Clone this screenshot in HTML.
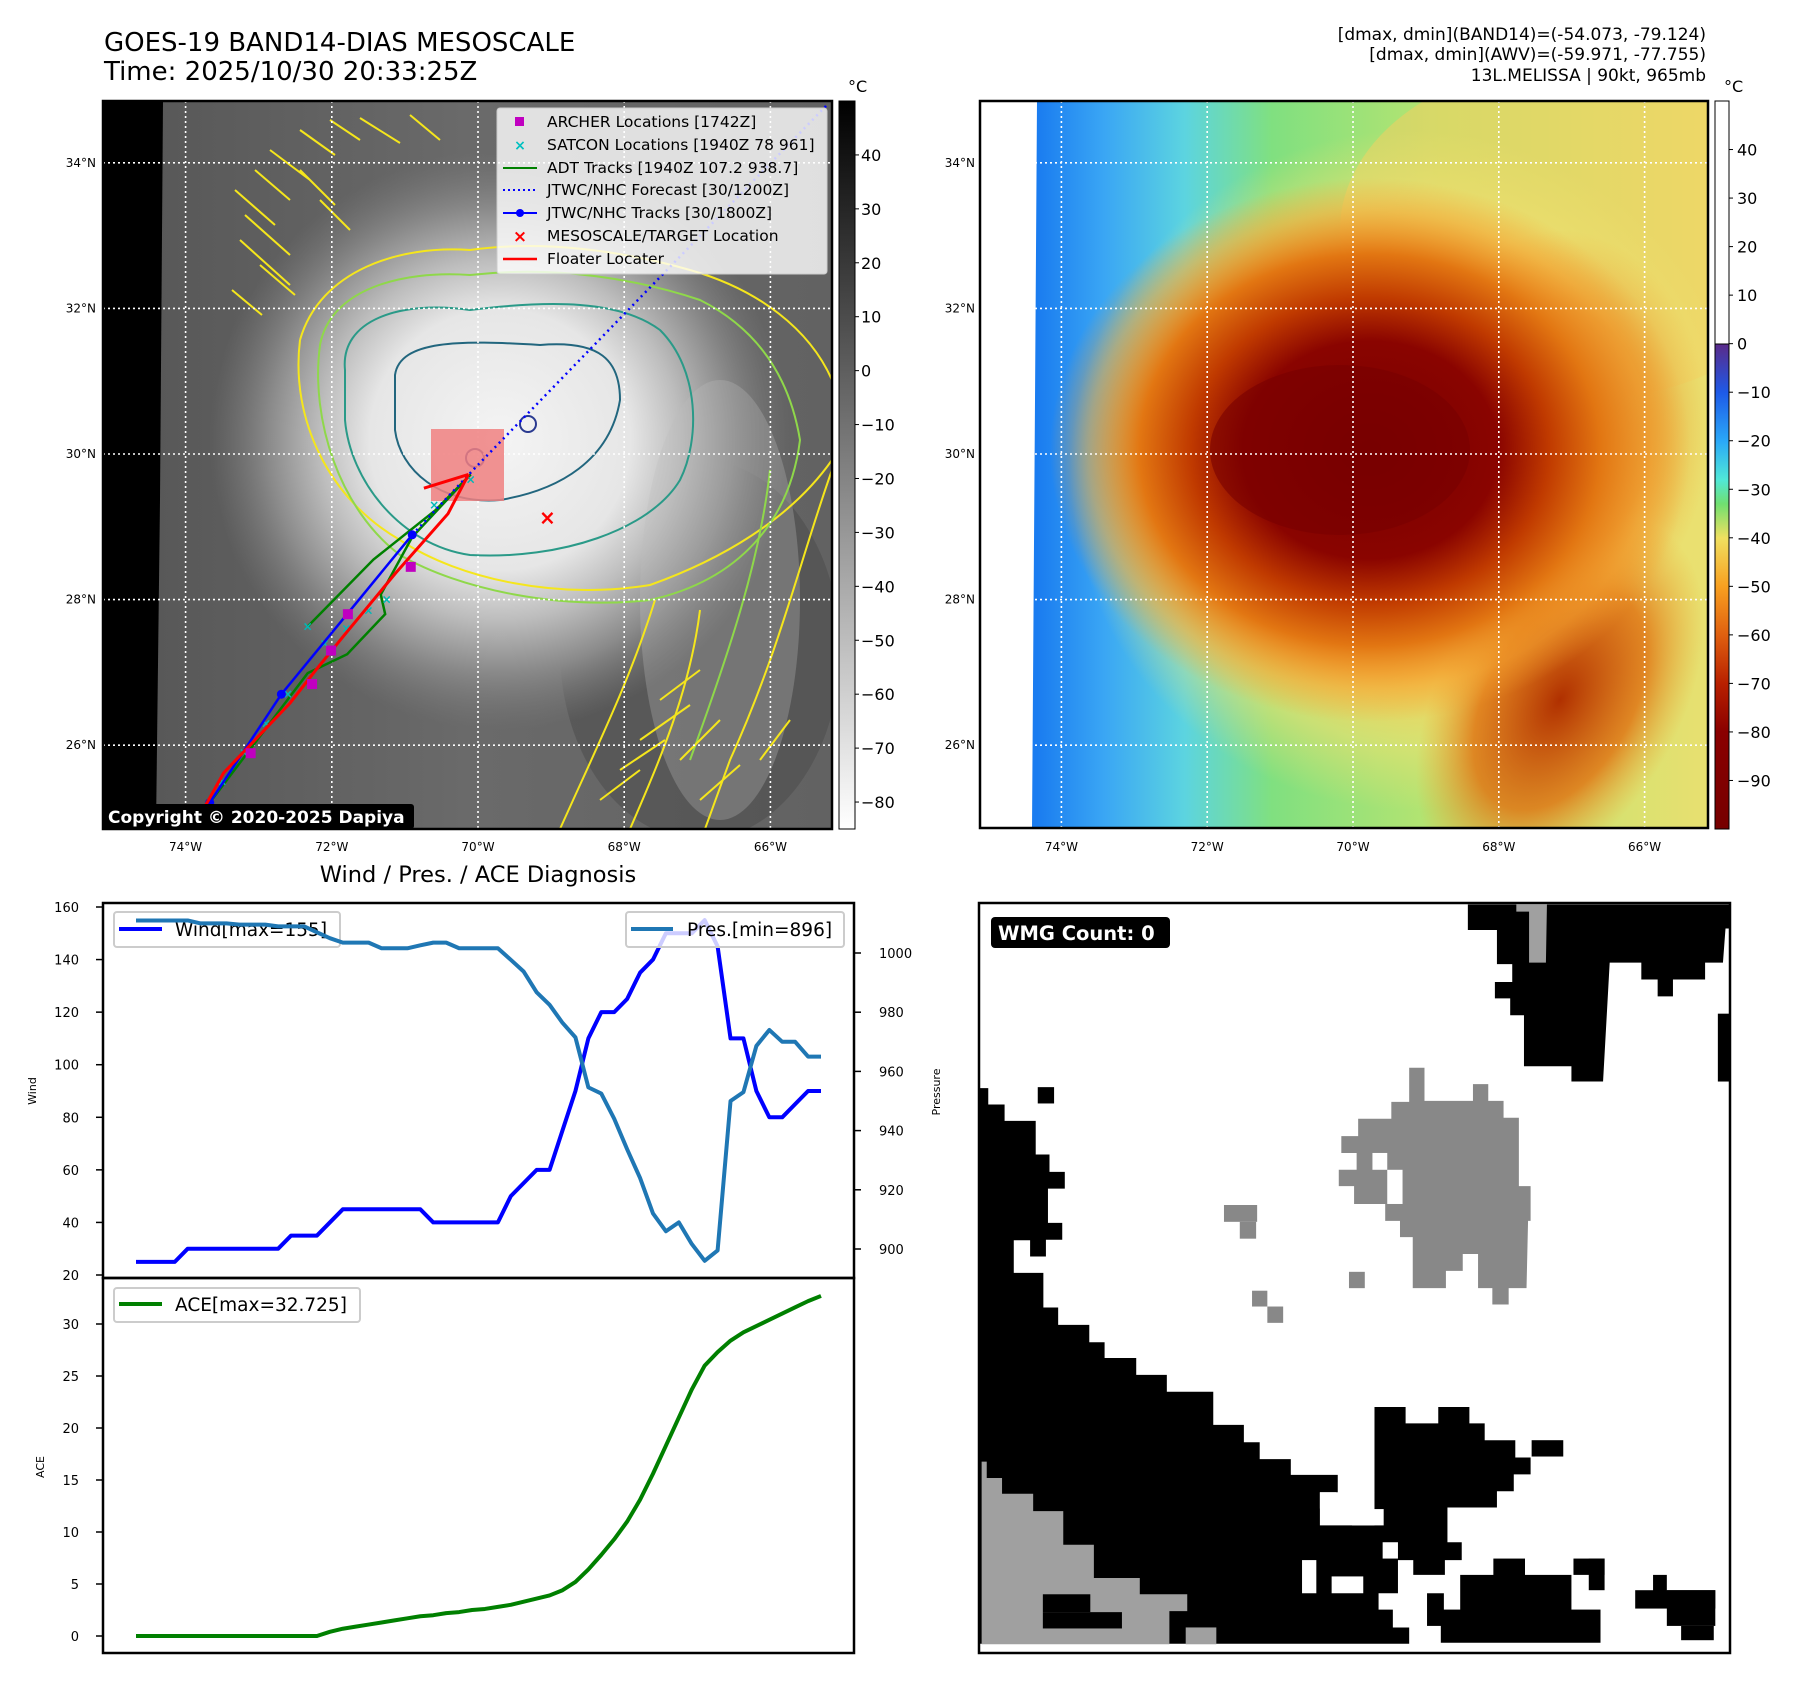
<!DOCTYPE html>
<html><head><meta charset="utf-8"><style>
html,body{margin:0;padding:0;background:#fff;}
svg{display:block;font-family:"DejaVu Sans","Liberation Sans",sans-serif;}
</style></head><body>
<svg id="fig" width="1797" height="1690" viewBox="0 0 1797 1690">
<defs>
  <radialGradient id="cloud" cx="500" cy="440" r="290" gradientUnits="userSpaceOnUse">
    <stop offset="0" stop-color="#f4f4f4"/><stop offset="0.45" stop-color="#e6e6e6"/>
    <stop offset="0.62" stop-color="#bdbdbd"/><stop offset="0.8" stop-color="#8a8a8a"/>
    <stop offset="1" stop-color="#777" stop-opacity="0"/>
  </radialGradient>
  <linearGradient id="leftbase" x1="0" y1="0" x2="1" y2="0">
    <stop offset="0" stop-color="#555"/><stop offset="0.5" stop-color="#6a6a6a"/><stop offset="1" stop-color="#626262"/>
  </linearGradient>
  <linearGradient id="graybar" x1="0" y1="0" x2="0" y2="1">
    <stop offset="0" stop-color="#000"/><stop offset="1" stop-color="#fff"/>
  </linearGradient>
  <linearGradient id="rbase" x1="1037" y1="0" x2="1708" y2="0" gradientUnits="userSpaceOnUse">
    <stop offset="0" stop-color="#1a7cf0"/><stop offset="0.1" stop-color="#3aa6f4"/>
    <stop offset="0.22" stop-color="#5cd4e0"/><stop offset="0.35" stop-color="#80e080"/>
    <stop offset="0.6" stop-color="#b8e470"/><stop offset="1" stop-color="#e8e070"/>
  </linearGradient>
  <radialGradient id="rhalo" cx="1410" cy="470" r="340" gradientUnits="userSpaceOnUse">
    <stop offset="0" stop-color="#f4b040"/><stop offset="0.6" stop-color="#f6c850"/>
    <stop offset="0.8" stop-color="#f0e070" stop-opacity="0.6"/><stop offset="1" stop-color="#f0e070" stop-opacity="0"/>
  </radialGradient>
  <radialGradient id="rcore" cx="1370" cy="450" r="320" gradientUnits="userSpaceOnUse" gradientTransform="translate(1370 450) scale(1 0.85) translate(-1370 -450)">
    <stop offset="0" stop-color="#780000"/><stop offset="0.4" stop-color="#8a0400"/>
    <stop offset="0.56" stop-color="#c03a00"/><stop offset="0.72" stop-color="#e27612"/>
    <stop offset="0.88" stop-color="#f3a030" stop-opacity="0.5"/><stop offset="1" stop-color="#f3a030" stop-opacity="0"/>
  </radialGradient>
  <radialGradient id="rarm" cx="0.5" cy="0.5" r="0.5">
    <stop offset="0" stop-color="#b03000"/><stop offset="0.6" stop-color="#e07010" stop-opacity="0.8"/><stop offset="1" stop-color="#f0a030" stop-opacity="0"/>
  </radialGradient>
  <linearGradient id="jetbar" x1="0" y1="0" x2="0" y2="1">
    <stop offset="0" stop-color="#5a2a8a"/><stop offset="0.1" stop-color="#1e5ae8"/>
    <stop offset="0.2" stop-color="#2aa8f8"/><stop offset="0.28" stop-color="#50e8d8"/>
    <stop offset="0.33" stop-color="#70e070"/><stop offset="0.4" stop-color="#f0e060"/>
    <stop offset="0.5" stop-color="#f8a020"/><stop offset="0.6" stop-color="#e06010"/>
    <stop offset="0.7" stop-color="#b82000"/><stop offset="0.8" stop-color="#8a0000"/>
    <stop offset="1" stop-color="#760000"/>
  </linearGradient>
  <clipPath id="clipL"><rect x="103" y="101" width="729" height="728"/></clipPath>
  <clipPath id="clipR"><rect x="980" y="101" width="728" height="727"/></clipPath>
</defs>

<text x="104" y="51" font-size="26">GOES-19 BAND14-DIAS MESOSCALE</text>
<text x="104" y="80" font-size="26">Time: 2025/10/30 20:33:25Z</text>
<g font-size="17" text-anchor="end">
  <text x="1706" y="40">[dmax, dmin](BAND14)=(-54.073, -79.124)</text>
  <text x="1706" y="60">[dmax, dmin](AWV)=(-59.971, -77.755)</text>
  <text x="1706" y="81">13L.MELISSA | 90kt, 965mb</text>
</g>

<g id="leftmap" clip-path="url(#clipL)">
  <rect x="103" y="101" width="729" height="728" fill="url(#leftbase)"/>
  <ellipse cx="700" cy="650" rx="140" ry="190" fill="#4a4a4a" opacity="0.5"/>
  <rect x="103" y="101" width="729" height="728" fill="url(#cloud)"/>
  <ellipse cx="720" cy="600" rx="80" ry="220" fill="#bdbdbd" opacity="0.3"/>
  <polygon points="103,101 163,101 160,500 156,829 103,829" fill="#000"/>
  <g fill="none" stroke-width="2">
    <path d="M300,340 C320,270 400,245 470,250 C540,240 620,250 690,270 C760,290 810,330 832,380" stroke="#f5e61c"/>
    <path d="M300,340 C290,420 330,500 400,540 C460,580 560,600 650,585 C720,560 790,520 832,460" stroke="#f5e61c"/>
    <path d="M832,470 C800,560 780,650 730,760 L705,829" stroke="#f5e61c"/>
    <path d="M655,600 C630,680 600,740 560,829" stroke="#f5e61c"/>
    <path d="M700,610 C690,690 660,760 630,829" stroke="#f5e61c"/>
    <path d="M320,345 C330,290 400,270 470,275 C560,265 640,280 700,300 C760,330 790,380 800,440 C790,520 740,580 650,600 C560,610 460,590 400,555 C340,510 310,420 320,345 Z" stroke="#8fd84a"/>
    <path d="M770,470 C760,560 730,650 690,760" stroke="#8fd84a"/>
    <path d="M345,370 C340,320 400,300 470,310 C550,300 620,300 660,330 C700,370 700,440 680,480 C650,530 560,560 470,555 C400,545 350,480 345,420 Z" stroke="#2a9a88"/>
    <path d="M395,375 C400,340 460,340 540,345 C600,340 620,360 620,400 C610,460 560,490 500,500 C440,505 400,470 395,430 Z" stroke="#22667e"/>
    <circle cx="528" cy="424" r="8" stroke="#2a3a90"/>
    <circle cx="475" cy="458" r="9" stroke="#2a3a90"/>
  </g>
  <g stroke="#f5e61c" stroke-width="2" fill="none">
    <path d="M235,190 l40,35 M245,215 l45,40 M240,240 l50,45 M255,170 l35,30 M270,150 l40,30 M300,130 l35,25 M330,120 l30,20 M260,265 l35,30 M232,290 l30,25 M360,118 l40,25 M410,115 l30,25 M300,170 l35,35 M320,200 l30,30"/>
    <path d="M660,700 l40,-30 M640,740 l50,-35 M620,770 l45,-30 M680,760 l40,-40 M700,800 l40,-35 M600,800 l40,-30 M760,760 l30,-40"/>
  </g>
  <g id="gridL" stroke="#fff" stroke-width="1.6" stroke-dasharray="2,3"></g>
  <rect x="431" y="429" width="73" height="72" fill="#f08080" opacity="0.85"/>
  <g id="tracks"></g>
  <rect x="103" y="804" width="311" height="25" rx="3" fill="#000"/>
  <text x="108" y="823" font-size="17" font-weight="bold" fill="#fff">Copyright © 2020-2025 Dapiya</text>
</g>
<rect x="103" y="101" width="729" height="728" fill="none" stroke="#000" stroke-width="2.5"/>
<g id="ticksL" font-size="12"></g>

<g>
  <rect x="497" y="108" width="330" height="166" rx="3" fill="#fff" fill-opacity="0.8" stroke="#ccc"/>
  <g font-size="15.5">
    <rect x="515" y="117" width="9" height="9" fill="#c000c0"/><text x="547" y="127">ARCHER Locations [1742Z]</text>
    <text x="520" y="150" fill="#00c0c0" text-anchor="middle" font-size="14" font-weight="bold">×</text><text x="547" y="150">SATCON Locations [1940Z 78 961]</text>
    <line x1="503" y1="168" x2="537" y2="168" stroke="#008000" stroke-width="2"/><text x="547" y="173">ADT Tracks [1940Z 107.2 938.7]</text>
    <line x1="503" y1="190" x2="537" y2="190" stroke="#0000ff" stroke-width="2" stroke-dasharray="2,3"/><text x="547" y="195">JTWC/NHC Forecast [30/1200Z]</text>
    <line x1="503" y1="213" x2="537" y2="213" stroke="#0000ff" stroke-width="2"/><circle cx="520" cy="213" r="4" fill="#0000ff"/><text x="547" y="218">JTWC/NHC Tracks [30/1800Z]</text>
    <text x="520" y="242" fill="#ff0000" text-anchor="middle" font-size="17" font-weight="bold">×</text><text x="547" y="241">MESOSCALE/TARGET Location</text>
    <line x1="503" y1="259" x2="537" y2="259" stroke="#ff0000" stroke-width="2.5"/><text x="547" y="264">Floater Locater</text>
  </g>
</g>

<rect x="839" y="101" width="16" height="728" fill="url(#graybar)" stroke="#000" stroke-width="1"/>
<text x="848" y="92" font-size="16">°C</text>
<g id="cbL" font-size="16"></g>

<g clip-path="url(#clipR)">
  <rect x="980" y="101" width="728" height="727" fill="#fff"/>
  <polygon points="1037,101 1708,101 1708,828 1032,828 1035,400" fill="url(#rbase)"/>
  <ellipse cx="1580" cy="230" rx="240" ry="170" fill="#f2d060" opacity="0.55"/>
  <rect x="980" y="101" width="728" height="727" fill="url(#rhalo)"/>
  <ellipse cx="1560" cy="700" rx="120" ry="200" transform="rotate(30 1560 700)" fill="url(#rarm)"/>
  <ellipse cx="1560" cy="430" rx="150" ry="200" fill="url(#rarm)" opacity="0.7"/>
  <rect x="980" y="101" width="728" height="727" fill="url(#rcore)"/>
  <ellipse cx="1340" cy="450" rx="130" ry="85" fill="#780000" opacity="0.6"/>
  <g id="gridR" stroke="#fff" stroke-width="1.6" stroke-dasharray="2,3"></g>
</g>
<rect x="980" y="101" width="728" height="727" fill="none" stroke="#000" stroke-width="2.5"/>
<g id="ticksR" font-size="12"></g>
<rect x="1715" y="101" width="14" height="243" fill="#fff" stroke="#000" stroke-width="1"/>
<rect x="1715" y="344" width="14" height="485" fill="url(#jetbar)" stroke="#000" stroke-width="1"/>
<text x="1724" y="92" font-size="16">°C</text>
<g id="cbR" font-size="16"></g>

<text x="478" y="882" font-size="22.5" text-anchor="middle">Wind / Pres. / ACE Diagnosis</text>
<g id="chart"></g>
<rect x="103" y="903" width="751" height="375" fill="none" stroke="#000" stroke-width="2.5"/>
<rect x="103" y="1278" width="751" height="375" fill="none" stroke="#000" stroke-width="2.5"/>
<text transform="translate(36 1091) rotate(-90)" font-size="11" text-anchor="middle">Wind</text>
<text transform="translate(940 1092) rotate(-90)" font-size="11" text-anchor="middle">Pressure</text>
<text transform="translate(44 1467) rotate(-90)" font-size="11" text-anchor="middle">ACE</text>

<g>
  <rect x="979" y="903" width="751" height="750" fill="#fff"/>
  <g transform="translate(950 880) scale(0.5102)">
    <path fill="#000" d="M57,408 L75,408 L75,440 L107,440 L107,472 L168,472 L168,538 L195,538 L195,572 L225,572 L225,605 L192,605 L192,672 L220,672 L220,705 L188,705 L188,738 L157,738 L157,706 L125,706 L125,770 L183,770 L183,838 L212,838 L212,872 L273,872 L273,906 L303,906 L303,937 L365,937 L365,970 L425,970 L425,1003 L516,1003 L516,1068 L576,1068 L576,1102 L607,1102 L607,1135 L668,1135 L668,1166 L760,1166 L760,1200 L725,1200 L725,1265 L832,1265 L832,1033 L893,1033 L893,1065 L957,1065 L957,1033 L1018,1033 L1018,1065 L1048,1065 L1048,1098 L1108,1098 L1108,1132 L1138,1132 L1138,1165 L1105,1165 L1105,1198 L1072,1198 L1072,1230 L975,1230 L975,1298 L1003,1298 L1003,1333 L970,1333 L970,1362 L908,1362 L908,1333 L878,1333 L878,1398 L840,1398 L840,1430 L868,1430 L868,1465 L900,1465 L900,1497 L57,1497 Z"/>
    <rect x="172" y="406" width="32" height="32" fill="#000"/>
    <g fill="#fff"><rect x="725" y="1200" width="32" height="32"/><rect x="788" y="1233" width="62" height="32"/><rect x="690" y="1333" width="28" height="65"/><rect x="748" y="1365" width="62" height="33"/><rect x="848" y="1298" width="30" height="32"/></g>
    <g fill="#000">
      <rect x="1065" y="1330" width="62" height="40"/><rect x="1000" y="1362" width="218" height="100"/>
      <rect x="962" y="1430" width="313" height="65"/><rect x="935" y="1398" width="33" height="64"/>
      <rect x="1222" y="1330" width="61" height="32"/><rect x="1252" y="1330" width="31" height="62"/>
      <rect x="1378" y="1362" width="27" height="36"/><rect x="1343" y="1392" width="157" height="36"/>
      <rect x="1405" y="1392" width="95" height="70"/><rect x="1433" y="1462" width="64" height="28"/>
      <rect x="1140" y="1098" width="62" height="32"/>
    </g>
    <path fill="#a0a0a0" d="M62,1140 L72,1140 L72,1172 L102,1172 L102,1203 L163,1203 L163,1237 L222,1237 L222,1303 L282,1303 L282,1368 L372,1368 L372,1400 L465,1400 L465,1433 L430,1433 L430,1498 L62,1498 Z"/>
    <rect x="462" y="1465" width="60" height="33" fill="#a0a0a0"/>
    <rect x="182" y="1400" width="93" height="35" fill="#000"/><rect x="182" y="1435" width="155" height="32" fill="#000"/>
    <path fill="#888" d="M900,368 L930,368 L930,433 L1025,433 L1025,400 L1055,400 L1055,433 L1085,433 L1085,466 L1115,466 L1115,600 L1138,600 L1138,668 L1133,668 L1130,800 L1095,800 L1095,832 L1063,832 L1063,800 L1035,800 L1035,733 L1005,733 L1005,766 L972,766 L972,800 L907,800 L907,700 L882,700 L882,668 L853,668 L853,635 L792,635 L792,600 L762,600 L762,568 L797,568 L797,535 L767,535 L767,502 L800,502 L800,468 L865,468 L865,435 L900,435 Z"/>
    <g fill="#fff"><rect x="828" y="535" width="29" height="33"/><rect x="857" y="568" width="30" height="67"/></g>
    <g fill="#888"><rect x="537" y="637" width="65" height="33"/><rect x="568" y="670" width="32" height="33"/><rect x="782" y="768" width="31" height="32"/><rect x="592" y="805" width="30" height="31"/><rect x="622" y="836" width="31" height="32"/></g>
    <path fill="#000" d="M1015,48 L1528,48 L1528,95 L1520,95 L1515,162 L1480,162 L1480,195 L1417,195 L1417,228 L1387,228 L1387,195 L1355,195 L1355,162 L1293,162 L1280,395 L1218,395 L1218,365 L1125,365 L1125,265 L1098,265 L1098,232 L1068,232 L1068,200 L1102,200 L1102,165 L1072,165 L1072,98 L1015,98 Z"/>
    <path fill="#a0a0a0" d="M1110,48 L1170,48 L1168,162 L1135,162 L1135,62 L1110,62 Z"/>
    <rect x="1505" y="262" width="23" height="133" fill="#000"/>
  </g>
  <rect x="979" y="903" width="751" height="750" fill="none" stroke="#000" stroke-width="2.5"/>
  <rect x="991" y="917" width="179" height="31" rx="4" fill="#000"/>
  <text x="998" y="940" font-size="19.5" font-weight="bold" fill="#fff">WMG Count: 0</text>
</g>
</svg>

<script>
const wind = [25,25,25,25,30,30,30,30,30,30,30,30,35,35,35,40,45,45,45,45,45,45,45,40,40,40,40,40,40,50,55,60,60,75,90,110,120,120,125,135,140,150,150,150,155,145,110,110,90,80,80,85,90,90];
const pres = [1011,1011,1011,1011,1011,1010,1010,1010,1009.6,1009.6,1009.6,1009,1009,1009,1007,1005,1003.5,1003.5,1003.5,1001.6,1001.6,1001.6,1002.6,1003.5,1003.5,1001.6,1001.6,1001.6,1001.6,997.7,993.7,986.7,982.5,976.4,971.5,954.6,952.5,944,933.7,924,912,906,909,901.7,896,899.5,950,953,968.6,974,970,970,965,965];
const ace = [0,0,0,0,0,0,0,0,0,0,0,0,0,0,0,0.4,0.7,0.9,1.1,1.3,1.5,1.7,1.9,2.0,2.2,2.3,2.5,2.6,2.8,3.0,3.3,3.6,3.9,4.4,5.2,6.4,7.8,9.3,11.0,13.1,15.6,18.3,21.0,23.7,26.0,27.3,28.4,29.2,29.8,30.4,31.0,31.6,32.2,32.7];
const windTicks = [20,40,60,80,100,120,140,160];
const presTicks = [900,920,940,960,980,1000];
const aceTicks = [0,5,10,15,20,25,30];
const lonTicks = [-74,-72,-70,-68,-66];
const latTicks = [26,28,30,32,34];
const cbLeftTicks = [40,30,20,10,0,-10,-20,-30,-40,-50,-60,-70,-80];
const cbRightTicks = [40,30,20,10,0,-10,-20,-30,-40,-50,-60,-70,-80,-90];
const bestLon = [-73.67,-72.69,-70.90];
const bestLat = [25.21,26.70,28.89];
const fcstLon = [-70.90,-70.03,-65.23];
const fcstLat = [28.89,29.82,34.79];
const floaterLon = [-73.85,-73.48,-72.57,-72.22,-71.88,-71.13,-70.41,-70.13];
const floaterLat = [24.95,25.62,26.58,27.03,27.45,28.36,29.18,29.72];
const floater2Lon = [-70.74,-70.13];
const floater2Lat = [29.53,29.72];
const adtLon = [-73.67,-72.33,-71.79,-71.27,-71.33,-70.90,-70.10];
const adtLat = [25.21,26.99,27.25,27.80,28.07,28.86,29.72];
const adt2Lon = [-72.33,-71.43,-70.58,-70.10];
const adt2Lat = [27.63,28.55,29.23,29.72];
const archerLon = [-73.77,-73.11,-72.27,-72.01,-71.78,-70.92];
const archerLat = [24.98,25.89,26.84,27.30,27.80,28.45];
const satLon = [-73.5,-73.2,-72.9,-72.6,-72.33,-72.1,-71.8,-71.5,-71.25,-70.6,-70.1];
const satLat = [25.5,25.9,26.3,26.7,27.63,27.4,27.6,27.85,28.0,29.3,29.65];
const targetLon = [-69.05];
const targetLat = [29.13];

const NS = 'http://www.w3.org/2000/svg';
function mk(tag, attrs, parent){ const e=document.createElementNS(NS,tag); for(const k in attrs) e.setAttribute(k,attrs[k]); parent.appendChild(e); return e; }

function lxL(lon){ return 478 + (lon+70)*73.1; }
function lxR(lon){ return 1353 + (lon+70)*72.9; }
function ly(lat){ return 454 - (lat-30)*72.8; }

const gL=document.getElementById('gridL'), gR=document.getElementById('gridR');
const tL=document.getElementById('ticksL'), tR=document.getElementById('ticksR');
lonTicks.forEach(lon=>{
  let l=mk('line',{x1:lxL(lon),x2:lxL(lon),y1:101,y2:829},gL);
  
  
  let r=mk('line',{x1:lxR(lon),x2:lxR(lon),y1:101,y2:828},gR);
  
  
  let t=mk('text',{x:lxL(lon),y:851,'text-anchor':'middle'},tL); t.textContent=Math.abs(lon)+'°W';
  
  
  let t2=mk('text',{x:lxR(lon),y:851,'text-anchor':'middle'},tR); t2.textContent=Math.abs(lon)+'°W';
  
  
});
latTicks.forEach(lat=>{
  let l=mk('line',{x1:103,x2:832,y1:ly(lat),y2:ly(lat)},gL);
  
  
  let r=mk('line',{x1:980,x2:1708,y1:ly(lat),y2:ly(lat)},gR);
  
  
  let t=mk('text',{x:96,y:ly(lat)+4,'text-anchor':'end'},tL); t.textContent=lat+'°N';
  
  
  let t2=mk('text',{x:975,y:ly(lat)+4,'text-anchor':'end'},tR); t2.textContent=lat+'°N';
  
  
});

const cbL=document.getElementById('cbL'), cbR=document.getElementById('cbR');
function minus(v){ return v<0 ? '\u2212'+Math.abs(v) : String(v); }
cbLeftTicks.forEach(v=>{
  const y=101+(50-v)/135*728;
  mk('line',{x1:855,x2:859,y1:y,y2:y,stroke:'#000'},cbL);
  let t=mk('text',{x:861,y:y+6},cbL); t.textContent=minus(v);
  
  
});
cbRightTicks.forEach(v=>{
  const y=101+(50-v)/150*728;
  mk('line',{x1:1729,x2:1733,y1:y,y2:y,stroke:'#000'},cbR);
  let t=mk('text',{x:1737,y:y+6},cbR); t.textContent=minus(v);
  
  
});

const tr=document.getElementById('tracks');
function pts(lons,lats){ return lons.map((lo,i)=>lxL(lo)+','+ly(lats[i])).join(' '); }
let p;
p=mk('polyline',{points:pts(adtLon,adtLat),fill:'none',stroke:'#008000','stroke-width':2.5},tr);


p=mk('polyline',{points:pts(adt2Lon,adt2Lat),fill:'none',stroke:'#008000','stroke-width':2.5},tr);


satLon.forEach((lo,i)=>{
  let t=mk('text',{x:lxL(lo),y:ly(satLat[i])+4,'text-anchor':'middle','font-size':12,'font-weight':'bold',fill:'#00b8b8'},tr); t.textContent='×';
  
  
});
p=mk('polyline',{points:pts(fcstLon,fcstLat),fill:'none',stroke:'#0000ff','stroke-width':2.5,'stroke-dasharray':'2,4'},tr);


p=mk('polyline',{points:pts(bestLon,bestLat),fill:'none',stroke:'#0000ff','stroke-width':2.5},tr);


bestLon.forEach((lo,i)=>{
  let c=mk('circle',{cx:lxL(lo),cy:ly(bestLat[i]),r:4.5,fill:'#0000ff'},tr);
  
  
});
p=mk('polyline',{points:pts(floaterLon,floaterLat),fill:'none',stroke:'#ff0000','stroke-width':3},tr);


p=mk('polyline',{points:pts(floater2Lon,floater2Lat),fill:'none',stroke:'#ff0000','stroke-width':3},tr);


archerLon.forEach((lo,i)=>{
  let r=mk('rect',{x:lxL(lo)-5,y:ly(archerLat[i])-5,width:10,height:10,fill:'#c000c0'},tr);
  
  
});
targetLon.forEach((lo,i)=>{
  let t=mk('text',{x:lxL(lo),y:ly(targetLat[i])+7,'text-anchor':'middle','font-size':20,'font-weight':'bold',fill:'#ff0000'},tr); t.textContent='×';
  
  
});

const ch=document.getElementById('chart');
function cx(i){ return 136 + i*(821-136)/53; }
function yW(v){ return 907 + (160-v)*(1275-907)/140; }
function yP(v){ return 953 + (1000-v)*2.96; }
function yA(v){ return 1636 - v*10.4; }
windTicks.forEach(v=>{
  mk('line',{x1:96,x2:103,y1:yW(v),y2:yW(v),stroke:'#000','stroke-width':1.5},ch);
  let t=mk('text',{x:79,y:yW(v)+5,'text-anchor':'end','font-size':13},ch); t.textContent=v;
  
  
});
presTicks.forEach(v=>{
  mk('line',{x1:854,x2:861,y1:yP(v),y2:yP(v),stroke:'#000','stroke-width':1.5},ch);
  let t=mk('text',{x:879,y:yP(v)+5,'font-size':13},ch); t.textContent=v;
  
  
});
aceTicks.forEach(v=>{
  mk('line',{x1:96,x2:103,y1:yA(v),y2:yA(v),stroke:'#000','stroke-width':1.5},ch);
  let t=mk('text',{x:79,y:yA(v)+5,'text-anchor':'end','font-size':13},ch); t.textContent=v;
  
  
});
let wl=mk('polyline',{points:wind.map((v,i)=>cx(i)+','+yW(v)).join(' '),fill:'none',stroke:'#0000ff','stroke-width':4,'stroke-linejoin':'round'},ch);


let lg=mk('g',{},ch);


mk('rect',{x:114,y:912,width:226,height:35,rx:3,fill:'#fff','fill-opacity':0.8,stroke:'#ccc','stroke-width':2},lg);
mk('line',{x1:119,x2:162,y1:929,y2:929,stroke:'#0000ff','stroke-width':4},lg);
let lt=mk('text',{x:175,y:936,'font-size':18.5},lg); lt.textContent='Wind[max=155]';
let pl=mk('polyline',{points:pres.map((v,i)=>cx(i)+','+yP(v)).join(' '),fill:'none',stroke:'#1f77b4','stroke-width':4,'stroke-linejoin':'round'},ch);


let pg=mk('g',{},ch);


mk('rect',{x:626,y:912,width:218,height:35,rx:3,fill:'#fff','fill-opacity':0.8,stroke:'#ccc','stroke-width':2},pg);
mk('line',{x1:631,x2:673,y1:929,y2:929,stroke:'#1f77b4','stroke-width':4},pg);
let pt=mk('text',{x:687,y:936,'font-size':18.5},pg); pt.textContent='Pres.[min=896]';
let al=mk('polyline',{points:ace.map((v,i)=>cx(i)+','+yA(v)).join(' '),fill:'none',stroke:'#008000','stroke-width':4,'stroke-linejoin':'round'},ch);


let ag=mk('g',{},ch);


mk('rect',{x:114,y:1288,width:246,height:34,rx:3,fill:'#fff','fill-opacity':0.8,stroke:'#ccc','stroke-width':2},ag);
mk('line',{x1:119,x2:162,y1:1304,y2:1304,stroke:'#008000','stroke-width':4},ag);
let at=mk('text',{x:175,y:1311,'font-size':18.5},ag); at.textContent='ACE[max=32.725]';
</script>
</body></html>
